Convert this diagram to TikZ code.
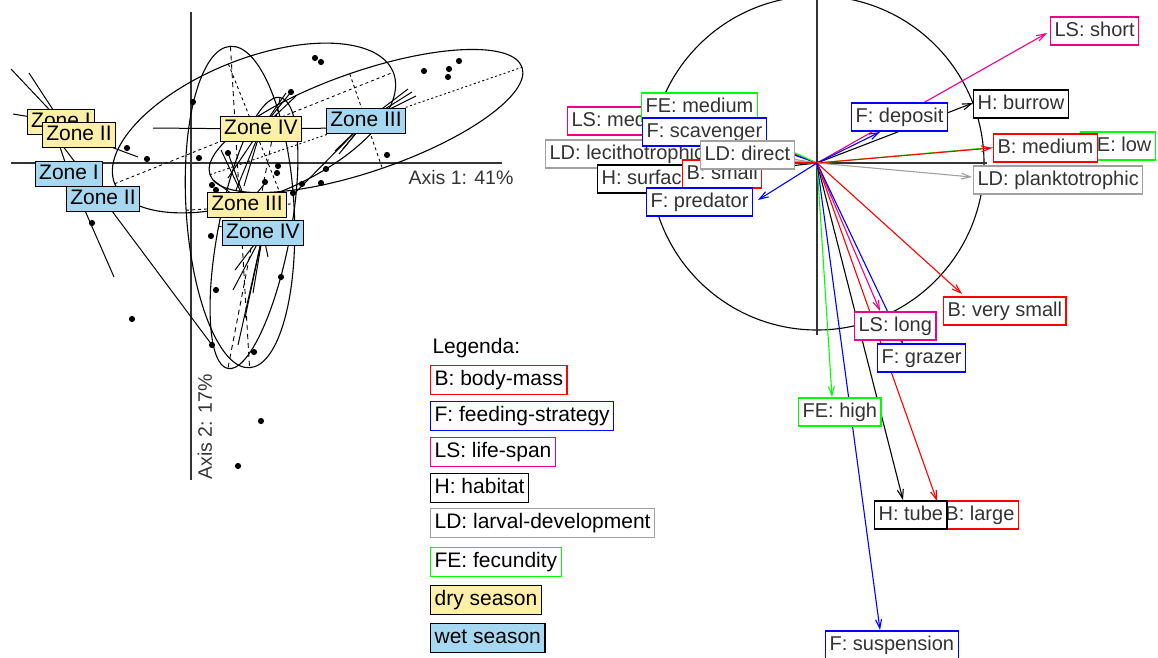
\documentclass[tikz,border=0pt]{standalone}
\usepackage{fontspec}
\setmainfont{Liberation Sans}
\usetikzlibrary{arrows.meta}

\definecolor{dryfill}{HTML}{FCF0A8}
\definecolor{wetfill}{HTML}{A6D8F2}
\definecolor{ldgray}{HTML}{A0A0A0}
\definecolor{inkgray}{HTML}{333333}

\tikzset{
  zone/.style={draw=black, line width=0.9pt, text=black, font=\fontsize{21}{24}\selectfont,
    inner xsep=4pt, inner ysep=3pt, text height=15pt, text depth=4.5pt},
  dry/.style={zone, fill=dryfill},
  wet/.style={zone, fill=wetfill},
  trait/.style={draw=#1, fill=white, line width=1.2pt, text=inkgray, font=\fontsize{20}{24}\selectfont,
    inner xsep=4pt, inner ysep=4.5pt, text height=14.5pt, text depth=4.5pt},
  legitem/.style={draw=#1, line width=1.3pt, text=black, font=\fontsize{21}{24}\selectfont,
    inner xsep=4pt, inner ysep=5pt, text height=15pt, text depth=4.5pt, anchor=west},
  vec/.style={draw=#1, line width=1.1pt, -{Straight Barb[length=9pt,width=6pt]}},
  star/.style={line width=1pt},
  axisline/.style={draw=inkgray, line width=1.4pt},
  axistext/.style={text=inkgray, font=\fontsize{19.5}{22}\selectfont},
}

\begin{document}
\begin{tikzpicture}[x=1pt, y=-1pt]
\useasboundingbox (0,0) rectangle (1158,657);
\clip (0,0) rectangle (1158,657);

% Ordination plane (left)
\draw[axisline] (191,12) -- (191,480);
\draw[axisline] (11,163) -- (502,163);
\node[axistext] (axone) at (461,178) {Axis 1: 41\%};
\node[axistext, rotate=90] (axtwo) at (205,427) {Axis 2: 17\%};

% Group centroids
\coordinate (cDryI) at (61,122);
\coordinate (cDryII) at (79,135);
\coordinate (cWetI) at (69,174);
\coordinate (cWetII) at (103,199);
\coordinate (cDryIV) at (261,129);
\coordinate (cWetIII) at (366,121);
\coordinate (cDryIII) at (247,205);
\coordinate (cWetIV) at (263,233);

% Ellipses with their axes
\begin{scope}[rotate around={21.8:(254,128)}]
  \draw[line width=1.1pt] (254,128) ellipse [x radius=150, y radius=69];
  \draw[dashed, line width=0.9pt] (104,128) -- (404,128);
  \draw[dashed, line width=0.9pt] (254,59) -- (254,197);
\end{scope}
\begin{scope}[rotate around={19:(366,121)}]
  \draw[line width=1.1pt] (366,121) ellipse [x radius=165, y radius=50];
  \draw[dash pattern=on 2pt off 2.5pt, line width=0.9pt] (201,121) -- (531,121);
  \draw[dashed, line width=0.9pt] (366,71) -- (366,171);
\end{scope}
\begin{scope}[rotate around={3.4:(240,207)}]
  \draw[line width=1.1pt] (240,207) ellipse [x radius=54, y radius=161];
  \draw[dash pattern=on 5pt off 4pt, line width=0.9pt] (240,46) -- (240,368);
  \draw[dashed, line width=0.9pt] (186,207) -- (294,207);
\end{scope}
\begin{scope}[rotate around={-10.9:(254,233)}]
  \draw[line width=1.1pt] (254,233) ellipse [x radius=36, y radius=138];
  \draw[dash pattern=on 5pt off 4pt, line width=0.9pt] (254,95) -- (254,371);
  \draw[dashed, line width=0.9pt] (218,233) -- (290,233);
\end{scope}

% Stars
\draw[star] (cDryI) -- (11,69);
\draw[star] (cDryI) -- (29,73);
\draw[star] (cDryI) -- (13,114);
\draw[star] (cDryII) -- (138,157);
\draw[star] (cWetI) -- (55,132);
\draw[star] (cWetI) -- (114,277);
\draw[star] (cWetII) -- (62,145);
\draw[star] (cWetII) -- (212,345);
\draw[star] (cDryIV) -- (153,128);
\draw[star] (cDryIV) -- (340,128);
\draw[star] (cDryIV) -- (286,93);
\draw[star] (cDryIV) -- (291,92);
\draw[star] (cDryIV) -- (296,96);
\draw[star] (cDryIV) -- (236,190);
\draw[star] (cDryIV) -- (228,178);
\draw[star] (cDryIV) -- (244,186);
\draw[star] (cWetIII) -- (408,89);
\draw[star] (cWetIII) -- (412,92);
\draw[star] (cWetIII) -- (416,96);
\draw[star] (cWetIII) -- (335,151);
\draw[star] (cWetIII) -- (339,154);
\draw[star] (cWetIII) -- (343,149);
\draw[star] (cWetIII) -- (292,196);
\draw[star] (cDryIII) -- (228,153);
\draw[star] (cDryIII) -- (221,150);
\draw[star] (cDryIII) -- (213,180);
\draw[star] (cDryIII) -- (266,182);
\draw[star] (cWetIV) -- (233,290);
\draw[star] (cWetIV) -- (238,345);
\draw[star] (cWetIV) -- (253,293);
\draw[star] (cWetIV) -- (268,257);
\draw[star] (cWetIV) -- (235,270);
\draw[star] (cWetIV) -- (245,318);

% Sites
\foreach \px/\py in {127/148, 147/159, 199/158, 228/153, 193/102, 291/92, 212/185, 216/190,
    211/236, 92/223, 278/166, 277/173, 293/193, 315/58, 321/62, 424/71, 449/69, 448/77,
    459/61, 387/155, 326/169, 321/183, 302/184, 132/319, 216/290, 281/277, 212/345,
    254/352, 261/421, 238/466, 265/182}
  \fill (\px,\py) circle [radius=3.1];

% Group labels
\node[dry] (dryI) at (cDryI) {Zone I};
\node[dry] (dryII) at (cDryII) {Zone II};
\node[wet] (wetI) at (cWetI) {Zone I};
\node[wet] (wetII) at (cWetII) {Zone II};
\node[dry] (dryIV) at (cDryIV) {Zone IV};
\node[wet] (wetIII) at (cWetIII) {Zone III};
\node[dry] (dryIII) at (cDryIII) {Zone III};
\node[wet] (wetIV) at (cWetIV) {Zone IV};

% Correlation circle (right)
\coordinate (orig) at (817,163);
\draw[line width=1.1pt] (orig) circle [radius=167];
\draw[axisline] (647,163) -- (987,163);
\draw[axisline] (817,-5) -- (817,335);

% Short vectors hidden under the labels
\draw[vec=magenta] (orig) -- (780,148);
\draw[vec=ldgray] (orig) -- (780,157);
\draw[vec=black] (orig) -- (780,167);
\draw[vec=ldgray] (orig) -- (780,160);
\draw[vec=blue] (orig) -- (780,150);
\draw[vec=green] (orig) -- (780,146);
\draw[vec=red] (orig) -- (780,163);
\draw[vec=blue] (orig) -- (758,200);

% Long vectors
\draw[vec=magenta] (orig) -- (1047,33);
\draw[vec=black] (orig) -- (973,103);
\draw[vec=blue] (orig) -- (880,132);
\draw[vec=green] (orig) -- (1076,140);
\draw[vec=red] (orig) -- (992,148);
\draw[vec=ldgray] (orig) -- (972,177);
\draw[vec=red] (orig) -- (962,294);
\draw[vec=magenta] (orig) -- (880,311);
\draw[vec=blue] (orig) -- (903,344);
\draw[vec=green] (orig) -- (832,397);
\draw[vec=black] (orig) -- (903,500);
\draw[vec=red] (orig) -- (937,501);
\draw[vec=blue] (orig) -- (880,630);

% Trait labels
\node[trait=magenta, anchor=west] (lsMedium) at (567,121) {LS: medium};
\node[trait=green, anchor=west] (feMedium) at (641,107) {FE: medium};
\node[trait=ldgray, anchor=west] (ldLeci) at (545,154) {LD: lecithotrophic};
\node[trait=blue, anchor=west] (fScav) at (642,132) {F: scavenger};
\node[trait=black, anchor=west] (hSurface) at (597,179) {H: surface};
\node[trait=red, anchor=west] (bSmall) at (682,174) {B: small};
\node[trait=ldgray, anchor=west] (ldDirect) at (700,155) {LD: direct};
\node[trait=blue, anchor=west] (fPred) at (646,202) {F: predator};
\node[trait=blue, anchor=west] (fDeposit) at (851,117) {F: deposit};
\node[trait=magenta, anchor=west] (lsShort) at (1050,31) {LS: short};
\node[trait=black, anchor=west] (hBurrow) at (973,104) {H: burrow};
\node[trait=green, anchor=east] (feLow) at (1156,146) {FE: low};
\node[trait=red, anchor=west] (bMedium) at (993,148) {B: medium};
\node[trait=ldgray, anchor=west] (ldPlank) at (973,180) {LD: planktotrophic};
\node[trait=red, anchor=west] (bVsmall) at (943,311) {B: very small};
\node[trait=magenta, anchor=west] (lsLong) at (854,326) {LS: long};
\node[trait=blue, anchor=west] (fGrazer) at (877,358) {F: grazer};
\node[trait=green, anchor=west] (feHigh) at (798,412) {FE: high};
\node[trait=red, anchor=east] (bLarge) at (1019,515) {B: large};
\node[trait=black, anchor=west] (hTube) at (874,515) {H: tube};
\node[trait=blue, anchor=west] (fSusp) at (825,645) {F: suspension};

% Legend
\node[anchor=west, text=black, font=\fontsize{21}{24}\selectfont] (legTitle) at (429,348) {Legenda:};
\node[legitem=red] (legB) at (430,380) {B: body-mass};
\node[legitem=blue] (legF) at (430,416) {F: feeding-strategy};
\node[legitem=magenta] (legLS) at (430,452) {LS: life-span};
\node[legitem=black] (legH) at (430,488) {H: habitat};
\node[legitem=ldgray] (legLD) at (430,523) {LD: larval-development};
\node[legitem=green] (legFE) at (430,562) {FE: fecundity};
\node[legitem=black, fill=dryfill] (legDry) at (430,600) {dry season};
\node[legitem=black, fill=wetfill] (legWet) at (430,638) {wet season};
\end{tikzpicture}
\end{document}
